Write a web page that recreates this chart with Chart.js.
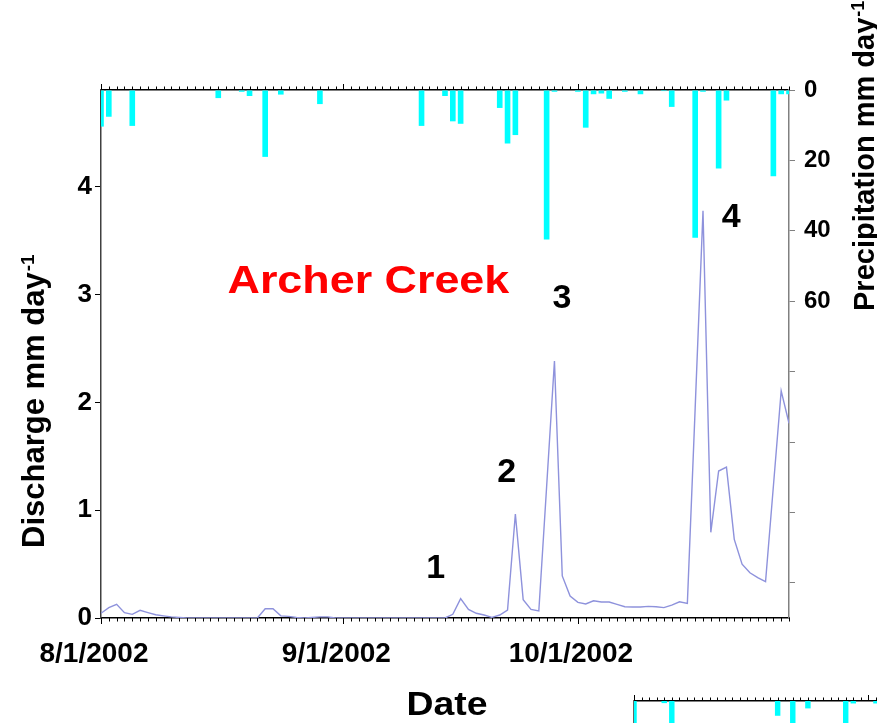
<!DOCTYPE html>
<html>
<head>
<meta charset="utf-8">
<script src="https://cdn.jsdelivr.net/npm/chart.js@4.4.1/dist/chart.umd.min.js"></script>
<style>
  html, body { margin: 0; padding: 0; background: #fff; overflow: hidden; }
  #main { position: absolute; left: 0; top: 0; }
  #next { position: absolute; left: 620px; top: 680px; }
</style>
</head>
<body>
<canvas id="main" width="877" height="723"></canvas>
<canvas id="next" width="257" height="43"></canvas>
<script>
// Archer Creek, day 0 = 8/1/2002
const tickDays = [0, 31, 61];
const tickLabels = ['8/1/2002', '9/1/2002', '10/1/2002'];

// daily discharge, mm/day (days 0..88)
const discharge = [
  0.044, 0.096, 0.127, 0.05, 0.034, 0.071, 0.05, 0.03, 0.02, 0.01,
  0.005, 0, 0, 0, 0, 0, 0, 0, 0, 0,
  0, 0.086, 0.086, 0.02, 0.015, 0.005, 0, 0.005, 0.01, 0.01,
  0, 0, 0, 0, 0, 0, 0, 0, 0, 0,
  0, 0, 0, 0, 0, 0.034, 0.18, 0.08, 0.044, 0.028,
  0.006, 0.028, 0.074, 0.965, 0.17, 0.08, 0.065, 1.22, 2.385, 0.39,
  0.204, 0.145, 0.13, 0.16, 0.148, 0.148, 0.127, 0.105, 0.102, 0.102,
  0.108, 0.105, 0.096, 0.12, 0.15, 0.136, 1.95, 3.78, 0.795, 1.364,
  1.40, 0.73, 0.50, 0.42, 0.374, 0.337, 1.22, 2.107, 1.807
];

// daily precipitation, mm/day (rain days only)
const rainDays = [0, 1, 4, 15, 18, 19, 21, 23, 28, 41, 44, 45, 46, 51, 52, 53, 57, 58,
  61, 62, 63, 64, 65, 67, 69, 72, 73, 76, 77, 79, 80, 86, 87, 88];
const rainMm = [10.4, 7.6, 10.2, 2.3, 0.5, 1.7, 19, 1.3, 4, 10.2, 1.7, 8.9, 9.6, 5.1, 15.2, 12.8, 42.5, 0.5,
  0.5, 10.7, 1.2, 1.0, 2.5, 0.5, 1.2, 0.3, 4.8, 42, 0.5, 22.3, 3, 24.5, 1.2, 1.2];

// storm events
const eventLabels = ['1', '2', '3', '4'];

// next panel below (only its top strip shows)
const nextTickDays = [0, 31];
const nextRainDays = [0, 4, 5, 19, 21, 23, 28, 29, 32];
const nextRainMm = [15, 0.6, 12, 4.2, 10, 2.1, 14, 0.7, 0.7];

const FAMILY = '"Liberation Sans", Arial, sans-serif';
const font = size => `bold ${size}px ${FAMILY}`;

function text(ctx, str, x, y, size, color, stretch) {
  ctx.save();
  ctx.font = font(size);
  ctx.fillStyle = color || '#000';
  ctx.textAlign = 'center';
  ctx.textBaseline = 'alphabetic';
  ctx.translate(x, y);
  ctx.scale(stretch || 1, 1);
  ctx.fillText(str, 0, 0);
  ctx.restore();
}

function axisTitle(ctx, str, sup, x, y, size) {
  ctx.save();
  ctx.translate(x, y);
  ctx.rotate(-Math.PI / 2);
  ctx.fillStyle = '#000';
  ctx.textAlign = 'left';
  ctx.textBaseline = 'alphabetic';
  ctx.font = font(size);
  ctx.fillText(str, 0, 0);
  const w = ctx.measureText(str).width;
  ctx.font = font(Math.round(size * 0.62));
  ctx.fillText(sup, w + 1, -size * 0.33);
  ctx.restore();
}

// one tick per day on the date axes, longer at month starts
const dayTicks = {
  id: 'dayTicks',
  afterDraw(chart, args, opts) {
    const ctx = chart.ctx;
    ctx.save();
    ctx.strokeStyle = '#000';
    ctx.lineWidth = 1;
    opts.axes.forEach(id => {
      const s = chart.scales[id];
      const dir = s.options.position === 'top' ? -1 : 1;
      const y0 = dir < 0 ? s.bottom : s.top;
      for (let d = Math.ceil(s.min); d <= s.max; d++) {
        const px = Math.round(s.getPixelForValue(d)) + 0.5;
        const len = opts.majors.includes(d) ? 6 : 3.5;
        ctx.beginPath();
        ctx.moveTo(px, y0);
        ctx.lineTo(px, y0 + dir * len);
        ctx.stroke();
      }
    });
    ctx.restore();
  }
};

const labels = {
  id: 'labels',
  afterDraw(chart) {
    const {ctx, scales: {x, y}} = chart;
    text(ctx, 'Archer Creek', x.getPixelForValue(34.2), y.getPixelForValue(3.015), 39, '#ff0000', 1.15);
    const at = [[42.8, 0.37], [51.9, 1.26], [58.95, 2.875], [80.6, 3.63]];
    eventLabels.forEach((t, i) => {
      text(ctx, t, x.getPixelForValue(at[i][0]), y.getPixelForValue(at[i][1]), 34);
    });
    text(ctx, 'Date', (x.left + x.right) / 2 + 2, 715, 34, '#000', 1.1);
    axisTitle(ctx, 'Discharge mm day', '-1', 44, 548, 31);
    axisTitle(ctx, 'Precipitation mm day', '-1', 874, 311, 29);
  }
};

new Chart(document.getElementById('main'), {
  data: {
    datasets: [
      {
        type: 'line',
        label: 'Discharge',
        data: discharge.map((v, i) => ({x: i, y: v})),
        xAxisID: 'x',
        yAxisID: 'y',
        borderColor: '#8e92dc',
        borderWidth: 1.4,
        pointRadius: 0,
        tension: 0,
        order: 1
      },
      {
        type: 'bar',
        label: 'Precipitation',
        data: rainDays.map((d, i) => ({x: d, y: rainMm[i]})),
        xAxisID: 'x',
        yAxisID: 'y1',
        backgroundColor: '#00ffff',
        barPercentage: 0.72,
        categoryPercentage: 1,
        order: 2
      }
    ]
  },
  options: {
    responsive: false,
    animation: false,
    devicePixelRatio: 1,
    plugins: {
      legend: {display: false},
      tooltip: {enabled: false},
      dayTicks: {axes: ['x', 'xTop'], majors: tickDays}
    },
    scales: {
      x: {
        type: 'linear',
        position: 'bottom',
        offset: false,
        min: 0,
        max: 88,
        afterBuildTicks: s => { s.ticks = tickDays.map(v => ({value: v})); },
        ticks: {
          callback: v => tickLabels[tickDays.indexOf(v)],
          font: {size: 28, weight: 'bold', family: FAMILY},
          color: '#000',
          padding: 19,
          labelOffset: -7,
          maxRotation: 0,
          autoSkip: false
        },
        grid: {display: false, drawTicks: false},
        border: {color: '#000', width: 1.5},
        afterFit: s => { s.height = 105; }
      },
      xTop: {
        type: 'linear',
        position: 'top',
        offset: false,
        min: 0,
        max: 88,
        ticks: {display: false},
        grid: {display: false, drawTicks: false},
        border: {color: '#000', width: 1.5},
        afterFit: s => { s.height = 90; }
      },
      y: {
        position: 'left',
        min: 0,
        max: 4.9,
        ticks: {
          stepSize: 1,
          includeBounds: false,
          font: {size: 26, weight: 'bold', family: FAMILY},
          color: '#000',
          padding: 3
        },
        grid: {drawOnChartArea: false, tickLength: 6, color: '#000'},
        border: {color: '#404040', width: 1.5},
        afterFit: s => { s.width = 101; }
      },
      y1: {
        position: 'right',
        reverse: true,
        min: 0,
        max: 150,
        ticks: {
          stepSize: 20,
          includeBounds: false,
          callback: v => (v <= 60 ? String(v) : ''),
          font: {size: 24, weight: 'bold', family: FAMILY},
          color: '#000',
          padding: 9
        },
        grid: {drawOnChartArea: false, tickLength: 6, color: '#808080'},
        border: {color: '#808080', width: 1.5},
        afterFit: s => { s.width = 88; }
      }
    }
  },
  plugins: [dayTicks, labels]
});

new Chart(document.getElementById('next'), {
  data: {
    datasets: [{
      type: 'bar',
      data: nextRainDays.map((d, i) => ({x: d, y: nextRainMm[i]})),
      xAxisID: 'xTop',
      yAxisID: 'y',
      backgroundColor: '#00ffff',
      barPercentage: 0.72,
      categoryPercentage: 1
    }]
  },
  options: {
    responsive: false,
    animation: false,
    devicePixelRatio: 1,
    plugins: {
      legend: {display: false},
      tooltip: {enabled: false},
      dayTicks: {axes: ['xTop'], majors: nextTickDays}
    },
    scales: {
      xTop: {
        type: 'linear',
        position: 'top',
        offset: false,
        min: 0,
        max: 32.14,
        ticks: {display: false},
        grid: {display: false, drawTicks: false},
        border: {color: '#000', width: 1.5},
        afterFit: s => { s.height = 21; }
      },
      y: {
        position: 'left',
        reverse: true,
        min: 0,
        max: 6.25,
        ticks: {display: false},
        grid: {display: false, drawTicks: false},
        border: {color: '#666', width: 2},
        afterFit: s => { s.width = 14; }
      }
    }
  },
  plugins: [dayTicks]
});
</script>
</body>
</html>
